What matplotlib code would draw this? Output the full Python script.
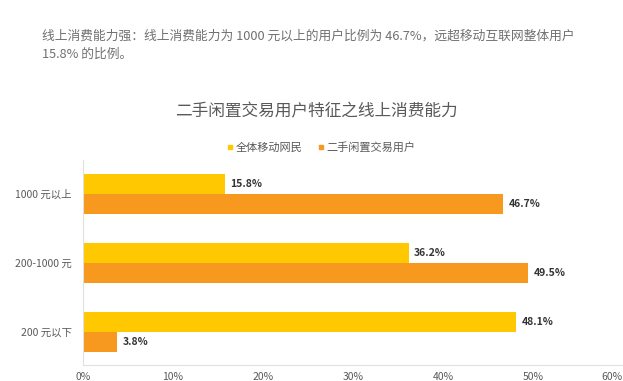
import matplotlib.pyplot as plt
from matplotlib.lines import Line2D

plt.rcParams["font.family"] = ["Noto Sans CJK SC", "DejaVu Sans"]

categories = ["200 元以下", "200-1000 元", "1000 元以上"]
all_mobile = [48.1, 36.2, 15.8]
second_hand = [3.8, 49.5, 46.7]
series_names = ["全体移动网民", "二手闲置交易用户"]
xticks = [0, 10, 20, 30, 40, 50, 60]
xtick_labels = ["0%", "10%", "20%", "30%", "40%", "50%", "60%"]

yellow = "#FFC800"
orange = "#F7981F"
gray = "#595959"

fig = plt.figure(figsize=(6.23, 3.81), dpi=100)
ax = fig.add_axes([0.1332, 0.042, 0.8668, 0.538])

h = 0.29
ypos = list(range(len(categories)))
ax.barh([y + h / 2 for y in ypos], all_mobile, height=h, color=yellow)
ax.barh([y - h / 2 for y in ypos], second_hand, height=h, color=orange)

for y, v in zip(ypos, all_mobile):
    ax.text(v + 0.6, y + h / 2, f"{v}%", va="center", ha="left",
            fontsize=7.5, fontweight="bold", color="#333333")
for y, v in zip(ypos, second_hand):
    ax.text(v + 0.6, y - h / 2, f"{v}%", va="center", ha="left",
            fontsize=7.5, fontweight="bold", color="#333333")

ax.set_xlim(0, 60)
ax.set_ylim(-0.478, 2.493)
ax.set_yticks(ypos)
ax.set_yticklabels(categories, fontsize=7.5, color=gray)
ax.set_xticks(xticks)
ax.set_xticklabels(xtick_labels, fontsize=7.5, color=gray)
# the last tick label sits at the right edge, keep it inside the picture
ax.get_xticklabels()[-1].set_horizontalalignment("right")
ax.tick_params(axis="both", length=0)
ax.tick_params(axis="y", pad=8)
ax.tick_params(axis="x", pad=5)
for side in ["top", "right"]:
    ax.spines[side].set_visible(False)
ax.spines["left"].set_color("#E0E0E0")
ax.spines["bottom"].set_color("#E0E0E0")
ax.spines["left"].set_linewidth(0.8)
ax.spines["bottom"].set_linewidth(0.8)

fig.text(0.507, 0.706, "二手闲置交易用户特征之线上消费能力", ha="center", va="center",
         fontsize=12, color=gray)

handles = [
    Line2D([], [], marker="s", linestyle="none", markersize=3.5, color=yellow),
    Line2D([], [], marker="s", linestyle="none", markersize=3.5, color=orange),
]
fig.legend(handles, series_names, loc="center", bbox_to_anchor=(0.515, 0.614),
           ncol=2, frameon=False, fontsize=8, handlelength=0.6,
           handletextpad=0.2, columnspacing=1.4, labelcolor=gray)

fig.text(0.0674, 1 - 36 / 381,
         "线上消费能力强：线上消费能力为 1000 元以上的用户比例为 46.7%，远超移动互联网整体用户",
         ha="left", va="center", fontsize=9.2, color="#707070")
fig.text(0.0674, 1 - 54 / 381, "15.8% 的比例。",
         ha="left", va="center", fontsize=9.2, color="#707070")

fig.savefig("out.png", dpi=100)
